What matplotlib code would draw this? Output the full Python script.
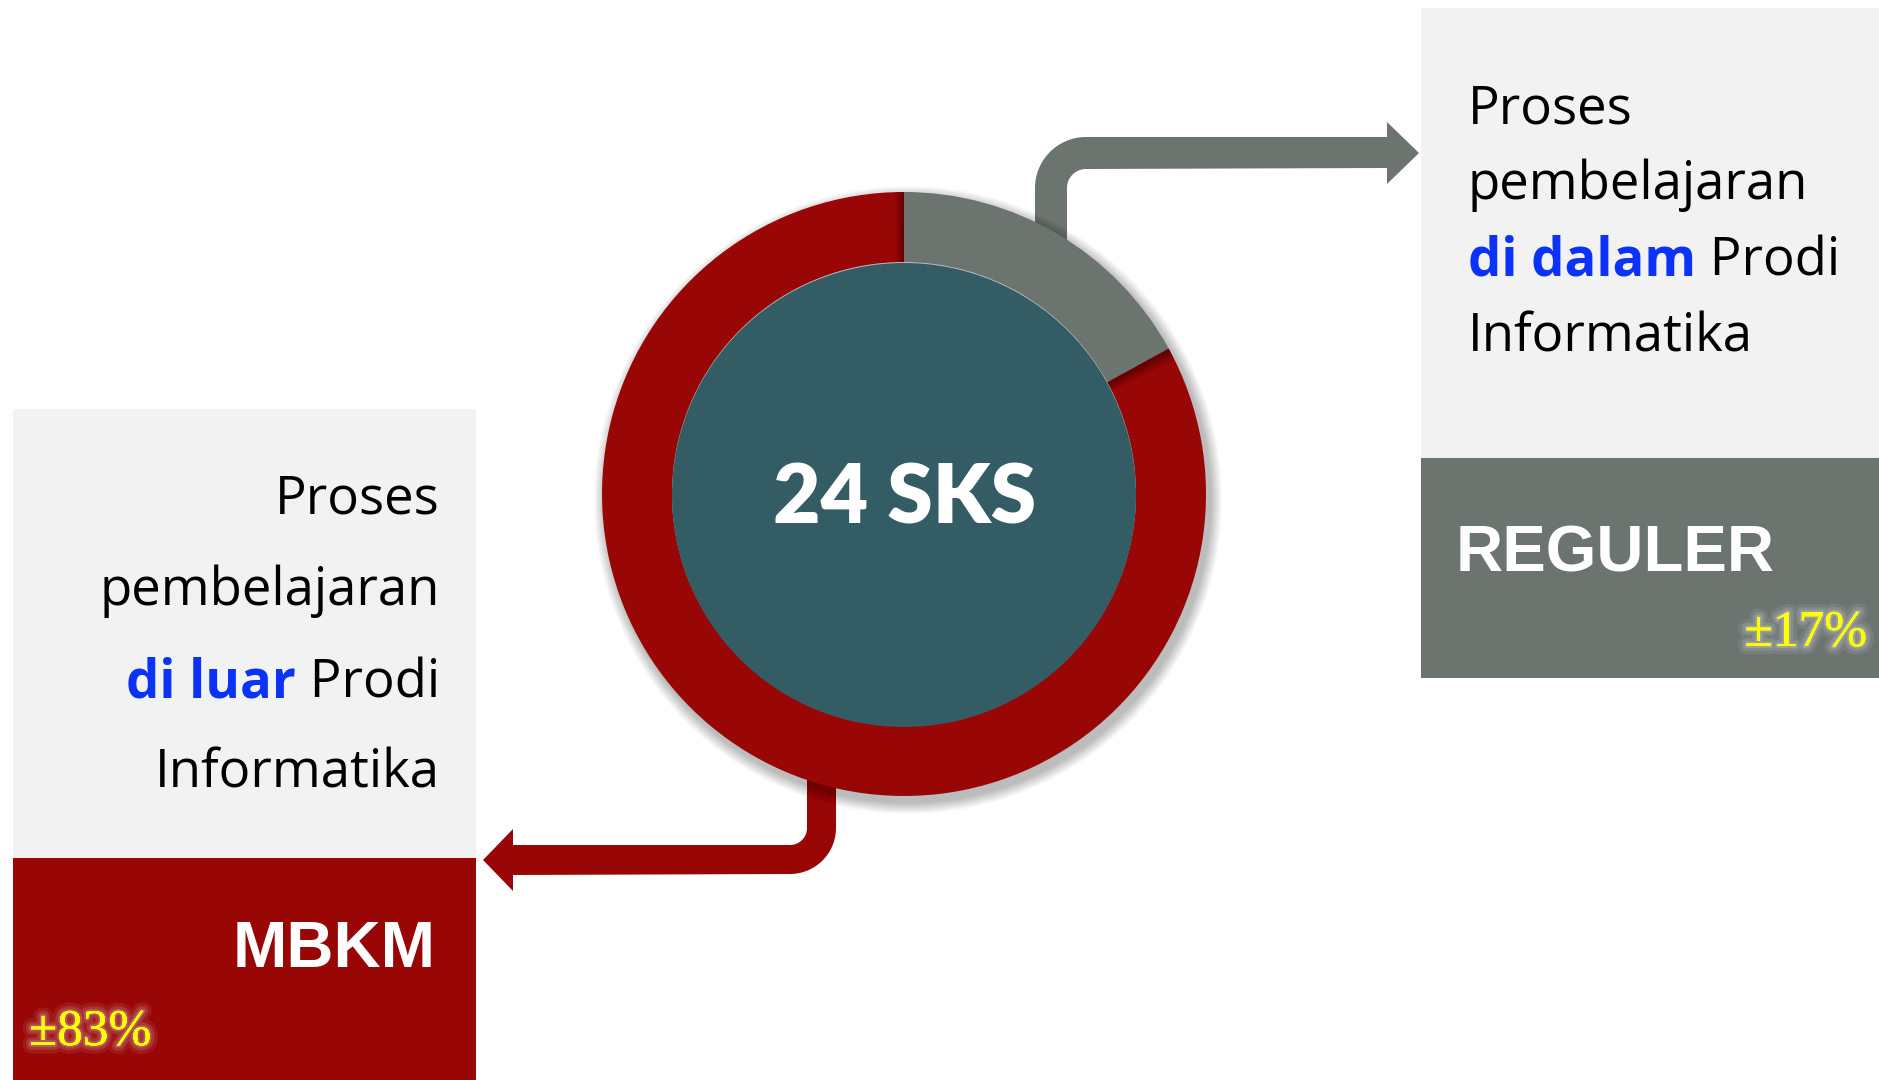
import numpy as np
import matplotlib
matplotlib.use("Agg")
import matplotlib.pyplot as plt
import matplotlib.patches as mpatches
import matplotlib.patheffects as pe
from matplotlib import font_manager
from matplotlib.font_manager import FontProperties

# data
shares = [17, 83]                     # REGULER, MBKM (percent of the 24 SKS)
segment_names = ["REGULER", "MBKM"]
pct_labels = ["±17%", "±83%"]
total_label = "24 SKS"
inside_words = ["Proses", "pembelajaran", "di dalam", "Prodi", "Informatika"]
outside_words = ["Proses", "pembelajaran", "di luar", "Prodi", "Informatika"]

RED = "#990606"
GRAY = "#6c7470"
TEAL = "#335c65"
LIGHT = "#f2f2f2"
BLUE = "#0b33f7"
YELLOW = "#ffff00"

W, H = 1879, 1080
cx, cy = 904, 494
R_OUT, R_IN = 302, 232

# centre label: a narrow heavy face looks closest to the original
names = {f.name for f in font_manager.fontManager.ttflist}
if "Liberation Sans Narrow" in names:
    cond_prop = FontProperties(family="Liberation Sans Narrow", weight="bold", size=68)
elif "Lato" in names:
    cond_prop = FontProperties(family="Lato", weight="heavy", size=59)
else:
    cond_prop = FontProperties(family="DejaVu Sans", stretch="condensed", weight="bold", size=58)

TEXT_FONT = "Open Sans"
LABEL_FONT = "Liberation Sans"
plt.rcParams["font.serif"] = ["Liberation Serif", "DejaVu Serif"]
pct_prop = FontProperties(family="serif", size=37)

fig = plt.figure(figsize=(W / 100, H / 100), dpi=100)
ax = fig.add_axes([0, 0, 1, 1])


def arc(c, r, a0, a1, n=30):
    t = np.radians(np.linspace(a0, a1, n))
    return np.column_stack([c[0] + r * np.cos(t), c[1] + r * np.sin(t)])


# gray arrow: from the donut up and to the right box
c = (1086, 188)
gray_arrow = np.vstack([
    [[1035, 260], [1035, 188]],
    arc(c, 51, 180, 270),
    [[1387, 137], [1387, 122], [1419, 153], [1387, 184], [1387, 168]],
    arc(c, 19, 270, 180),
    [[1067, 260]],
])
ax.add_patch(mpatches.Polygon(gray_arrow, closed=True, fc=GRAY, ec="none", zorder=1))

# red arrow: from the donut down and to the left box
c = (790, 828)
red_arrow = np.vstack([
    [[807, 770], [807, 828]],
    arc(c, 17, 0, 90),
    [[513, 845], [513, 829], [483, 860], [513, 891], [513, 875]],
    arc(c, 46, 90, 0),
    [[836, 770]],
])
ax.add_patch(mpatches.Polygon(red_arrow, closed=True, fc=RED, ec="none", zorder=1))

# soft shadow behind the ring, mostly to the lower right
n = 14
for k in range(n):
    ax.add_patch(mpatches.Circle((cx + 4, cy + 6), R_OUT + 12 * (1 - k / n),
                                 fc="black", ec="none", alpha=0.02, zorder=2))

# donut (y axis is inverted, so counterclock in data space is clockwise on screen)
wedges, _ = ax.pie(shares, colors=[GRAY, RED], startangle=-90, counterclock=True,
                   radius=R_OUT, center=(cx, cy), frame=True,
                   wedgeprops=dict(width=R_OUT - R_IN, linewidth=0))
for w in wedges:
    w.set_zorder(3)

# little inner shadow where the red segment starts/ends
a_split = -90 + 360 * shares[0] / sum(shares)
for k in range(6):
    ax.add_patch(mpatches.Wedge((cx, cy), R_OUT, a_split, a_split + 0.4 * (k + 1),
                                width=R_OUT - R_IN, fc="black", ec="none",
                                alpha=0.07, zorder=3.5))
    ax.add_patch(mpatches.Wedge((cx, cy), R_OUT, 270 - 0.3 * (k + 1), 270,
                                width=R_OUT - R_IN, fc="black", ec="none",
                                alpha=0.06, zorder=3.5))

ax.add_patch(mpatches.Circle((cx, cy + 1), R_IN, fc=TEAL, ec="none", zorder=4))
ax.text(cx + 1, 523, total_label, color="white", fontproperties=cond_prop,
        ha="center", va="baseline", zorder=5)

# boxes
ax.add_patch(mpatches.Rectangle((1421, 8), W - 1421, 450, fc=LIGHT, ec="none", zorder=1))
ax.add_patch(mpatches.Rectangle((1421, 458), W - 1421, 220, fc=GRAY, ec="none", zorder=1))
ax.add_patch(mpatches.Rectangle((13, 409), 463, 449, fc=LIGHT, ec="none", zorder=1))
ax.add_patch(mpatches.Rectangle((13, 858), 463, H - 858, fc=RED, ec="none", zorder=1))

fs = 38
# right box text (left aligned)
xr = 1468
ax.text(xr, 123, inside_words[0], fontsize=fs, family=TEXT_FONT, va="baseline", zorder=5)
ax.text(xr, 199, inside_words[1], fontsize=fs, family=TEXT_FONT, va="baseline", zorder=5)
t1 = ax.text(xr, 275, inside_words[2], fontsize=fs, family=TEXT_FONT, fontweight="bold",
             color=BLUE, va="baseline", zorder=5)
ax.annotate(" " + inside_words[3], xy=(1, 0), xycoords=t1, fontsize=fs, family=TEXT_FONT,
            ha="left", va="bottom", zorder=5)
ax.text(xr, 352, inside_words[4], fontsize=fs, family=TEXT_FONT, va="baseline", zorder=5)

# left box text (right aligned)
xl = 440
ax.text(xl, 514, outside_words[0], fontsize=fs, family=TEXT_FONT, ha="right", va="baseline", zorder=5)
ax.text(xl, 605, outside_words[1], fontsize=fs, family=TEXT_FONT, ha="right", va="baseline", zorder=5)
t2 = ax.text(xl, 697, " " + outside_words[3], fontsize=fs, family=TEXT_FONT, ha="right",
             va="baseline", zorder=5)
ax.annotate(outside_words[2], xy=(0, 0), xycoords=t2, fontsize=fs, family=TEXT_FONT,
            fontweight="bold", color=BLUE, ha="right", va="bottom", zorder=5)
ax.text(xl, 788, outside_words[4], fontsize=fs, family=TEXT_FONT, ha="right", va="baseline", zorder=5)

# segment names
ax.text(1456, 571, segment_names[0], fontsize=47, family=LABEL_FONT, fontweight="bold",
        color="white", va="baseline", zorder=5)
ax.text(436, 967, segment_names[1], fontsize=47, family=LABEL_FONT, fontweight="bold",
        color="white", ha="right", va="baseline", zorder=5)

# percentages with a soft glow
glow = [pe.withStroke(linewidth=12, foreground="white", alpha=0.08),
        pe.withStroke(linewidth=7, foreground="white", alpha=0.12),
        pe.withStroke(linewidth=3, foreground="white", alpha=0.18),
        pe.Normal()]
ax.text(1867, 646, pct_labels[0], fontproperties=pct_prop, color=YELLOW,
        ha="right", va="baseline", path_effects=glow, zorder=6)
ax.text(29, 1045, pct_labels[1], fontproperties=pct_prop, color=YELLOW,
        ha="left", va="baseline", path_effects=glow, zorder=6)

ax.set_xlim(0, W)
ax.set_ylim(H, 0)
ax.set_aspect("auto")
ax.axis("off")
fig.savefig("out.png", dpi=100, facecolor="white")
